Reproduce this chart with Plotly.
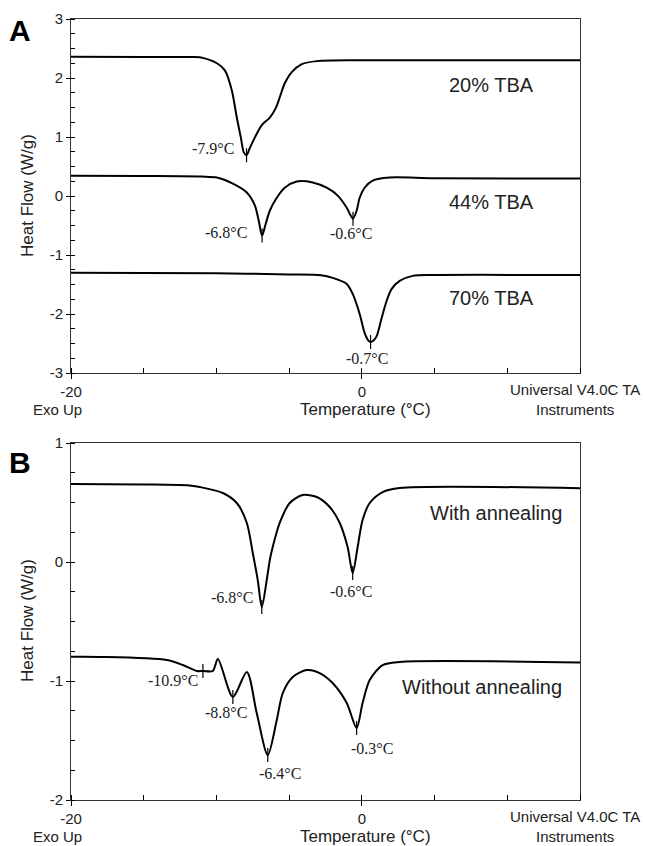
import plotly.graph_objects as go

W, H = 645, 846

# ---------------- Panel A data (Temperature °C, Heat Flow W/g) ----------------
a20_t = [-20, -15, -12, -11.14, -9.97, -9.42, -8.94, -8.60, -8.32, -8.12, -7.93, -7.71, -7.36, -6.88,
         -6.33, -5.92, -5.65, -5.30, -4.82, -4.13, -3.10, 0, 15]
a20_v = [2.36, 2.356, 2.354, 2.35, 2.25, 2.13, 1.79, 1.33, 0.99, 0.74, 0.69, 0.81, 0.99, 1.20,
         1.33, 1.49, 1.67, 1.91, 2.10, 2.235, 2.286, 2.30, 2.30]

a44_t = [-20, -15, -11, -9.97, -8.87, -7.91, -7.36, -7.09, -6.86, -6.61, -6.33, -5.85, -5.30, -4.48,
         -3.38, -2.42, -1.66, -1.04, -0.77, -0.61, -0.36, -0.15, 0.19, 0.74, 1.91, 5, 15]
a44_v = [0.345, 0.34, 0.33, 0.313, 0.21, 0.06, -0.16, -0.42, -0.67, -0.47, -0.25, -0.03, 0.14, 0.245,
         0.23, 0.14, 0.007, -0.20, -0.33, -0.385, -0.25, -0.03, 0.14, 0.26, 0.313, 0.30, 0.295]

a70_t = [-20, -10, -5, -2.8, -2.01, -1.04, -0.63, -0.15, 0.19, 0.45, 0.60, 0.80, 1.02, 1.36, 1.70,
         2.05, 2.60, 3.49, 5, 15]
a70_v = [-1.30, -1.31, -1.33, -1.345, -1.388, -1.49, -1.66, -2.0, -2.32, -2.45, -2.476, -2.45, -2.374,
         -2.068, -1.779, -1.575, -1.44, -1.354, -1.34, -1.34]

# ---------------- Panel B data ----------------
bw_t = [-20, -15, -12, -11.14, -9.56, -8.60, -7.91, -7.50, -7.16, -6.88, -6.54, -6.33, -6.13, -5.65,
        -4.96, -4.07, -3.10, -2.21, -1.52, -0.98, -0.63, -0.29, 0.05, 0.54, 1.43, 2.60, 15]
bw_v = [0.655, 0.652, 0.645, 0.630, 0.580, 0.496, 0.328, 0.076, -0.151, -0.378, -0.151, 0.017, 0.126,
        0.328, 0.496, 0.563, 0.546, 0.462, 0.328, 0.126, -0.092, 0.126, 0.353, 0.496, 0.588, 0.622, 0.62]

bo_t = [-20, -18, -13.41, -12.31, -11.35, -10.93, -10.25, -9.90, -8.87, -7.91, -7.23, -6.47, -5.85,
        -5.44, -4.75, -3.79, -2.90, -2.01, -1.04, -0.36, 0.05, 0.54, 1.43, 2.60, 15]
bo_v = [-0.797, -0.798, -0.824, -0.866, -0.916, -0.916, -0.916, -0.815, -1.134, -0.924, -1.269, -1.622,
        -1.328, -1.101, -0.966, -0.908, -0.933, -1.017, -1.185, -1.395, -1.185, -0.992, -0.866, -0.840, -0.845]

# Peak markers and their labels
a_peak_t = [-7.93, -6.86, -0.61, 0.60]
a_peak_v = [0.69, -0.67, -0.385, -2.476]
a_peak_lbl = ["-7.9°C", "-6.8°C", "-0.6°C", "-0.7°C"]

b_peak_t = [-6.88, -0.63, -8.87, -6.47, -0.36]
b_peak_v = [-0.378, -0.092, -1.134, -1.622, -1.395]
b_peak_lbl = ["-6.8°C", "-0.6°C", "-8.8°C", "-6.4°C", "-0.3°C"]
b_onset_t = [-10.93]
b_onset_v = [-0.916]
b_onset_lbl = ["-10.9°C"]

series_a_lbl = ["20% TBA", "44% TBA", "70% TBA"]
series_b_lbl = ["With annealing", "Without annealing"]

x_tickvals = [-20, 0]
x_ticktext = ["-20", "0"]
ya_tickvals = [-3, -2, -1, 0, 1, 2, 3]
ya_ticktext = ["-3", "-2", "-1", "0", "1", "2", "3"]
yb_tickvals = [-2, -1, 0, 1]
yb_ticktext = ["-2", "-1", "0", "1"]

fig = go.Figure()

def curve(t, v, ax):
    fig.add_trace(go.Scatter(x=t, y=v, mode="lines", xaxis="x" if ax == 1 else "x2",
                             yaxis="y" if ax == 1 else "y2",
                             line=dict(color="black", width=2, shape="spline", smoothing=0.8),
                             hoverinfo="skip", showlegend=False))

curve(a20_t, a20_v, 1)
curve(a44_t, a44_v, 1)
curve(a70_t, a70_v, 1)
curve(bw_t, bw_v, 2)
curve(bo_t, bo_v, 2)

def marks(t, v, ax, sym):
    fig.add_trace(go.Scatter(x=t, y=v, mode="markers", xaxis="x" if ax == 1 else "x2",
                             yaxis="y" if ax == 1 else "y2",
                             marker=dict(symbol=sym, size=10, color="black",
                                         line=dict(color="black", width=1.2)),
                             hoverinfo="skip", showlegend=False))

marks(a_peak_t, a_peak_v, 1, "line-ns-open")
marks(b_peak_t, b_peak_v, 2, "line-ns-open")
marks(b_onset_t, b_onset_v, 2, "cross-thin-open")

def px_x(p):
    return p / W

def px_y(p):
    return 1 - p / H

xdom = [px_x(71), px_x(580)]
ya_dom = [px_y(373), px_y(19)]
yb_dom = [px_y(800), px_y(443)]

sans = "Liberation Sans, Arial, sans-serif"
serif = "Liberation Serif, Times New Roman, serif"

def xaxis(anchor):
    return dict(domain=xdom, range=[-20, 15], anchor=anchor, automargin=False,
                tickmode="array", tickvals=x_tickvals, ticktext=x_ticktext,
                ticks="outside", ticklen=5, tickcolor="black", tickwidth=1,
                minor=dict(dtick=5, tick0=0, ticks="inside", ticklen=5, tickcolor="black", tickwidth=1),
                showline=True, linecolor="#333", linewidth=1, mirror=True,
                showgrid=False, zeroline=False,
                tickfont=dict(family=sans, size=15, color="#222"))

def yaxis(rng, dom, anchor, tv, tt):
    return dict(domain=dom, range=rng, anchor=anchor, automargin=False,
                tickmode="array", tickvals=tv, ticktext=tt,
                ticks="outside", ticklen=4, tickcolor="black", tickwidth=1,
                minor=dict(dtick=0.25, tick0=0, ticks="inside", ticklen=4, tickcolor="black", tickwidth=1),
                showline=True, linecolor="#333", linewidth=1, mirror=True,
                showgrid=False, zeroline=False,
                tickfont=dict(family=sans, size=15, color="#222"))

fig.update_layout(
    width=W, height=H, margin=dict(l=0, r=0, t=0, b=0, autoexpand=False),
    paper_bgcolor="white", plot_bgcolor="white", showlegend=False,
    xaxis=xaxis("y"), yaxis=yaxis([-3, 3], ya_dom, "x", ya_tickvals, ya_ticktext),
    xaxis2=xaxis("y2"), yaxis2=yaxis([-2, 1], yb_dom, "x2", yb_tickvals, yb_ticktext),
)

ann = []
a_off = [("right", -11, 7), ("right", -13, 3), ("center", -2, -15), ("center", -4, -16)]
for t, v, s, (xa, xs, ys) in zip(a_peak_t, a_peak_v, a_peak_lbl, a_off):
    ann.append(dict(x=t, y=v, xref="x", yref="y", text=s, showarrow=False, xanchor=xa, yanchor="middle",
                    xshift=xs, yshift=ys, font=dict(family=serif, size=16, color="#222")))
b_off = [("right", -7, 9), ("center", -2, -19), ("center", -7, -16), ("center", 12, -18), ("center", 15, -20)]
for t, v, s, (xa, xs, ys) in zip(b_peak_t, b_peak_v, b_peak_lbl, b_off):
    ann.append(dict(x=t, y=v, xref="x2", yref="y2", text=s, showarrow=False, xanchor=xa, yanchor="middle",
                    xshift=xs, yshift=ys, font=dict(family=serif, size=16, color="#222")))
for t, v, s in zip(b_onset_t, b_onset_v, b_onset_lbl):
    ann.append(dict(x=t, y=v, xref="x2", yref="y2", text=s, showarrow=False, xanchor="right", yanchor="middle",
                    xshift=-3, yshift=-9, font=dict(family=serif, size=16, color="#222")))

for s, yp in zip(series_a_lbl, [85, 202, 298]):
    ann.append(dict(x=px_x(491), y=px_y(yp), xref="paper", yref="paper", text=s, showarrow=False,
                    xanchor="center", yanchor="middle", font=dict(family=sans, size=20, color="#222")))
for s, xp, yp in zip(series_b_lbl, [496, 482], [513, 687]):
    ann.append(dict(x=px_x(xp), y=px_y(yp), xref="paper", yref="paper", text=s, showarrow=False,
                    xanchor="center", yanchor="middle", font=dict(family=sans, size=20, color="#222")))

for s, yp in zip(["A", "B"], [30, 463]):
    ann.append(dict(x=px_x(20), y=px_y(yp), xref="paper", yref="paper", text="<b>" + s + "</b>",
                    showarrow=False, xanchor="center", yanchor="middle",
                    font=dict(family=sans, size=30, color="black")))

for y_tick, y_title, y_center in [(389, 410, 196), (816, 836, 621)]:
    ann.append(dict(x=px_x(57), y=px_y(y_title), xref="paper", yref="paper", text="Exo Up", showarrow=False,
                    xanchor="center", yanchor="middle", font=dict(family=sans, size=15, color="#222")))
    ann.append(dict(x=px_x(365), y=px_y(y_title), xref="paper", yref="paper", text="Temperature (°C)",
                    showarrow=False, xanchor="center", yanchor="middle",
                    font=dict(family=sans, size=17, color="#222")))
    ann.append(dict(x=px_x(575), y=px_y(y_tick), xref="paper", yref="paper", text="Universal V4.0C TA",
                    showarrow=False, xanchor="center", yanchor="middle",
                    font=dict(family=sans, size=15, color="#222")))
    ann.append(dict(x=px_x(575), y=px_y(y_title), xref="paper", yref="paper", text="Instruments",
                    showarrow=False, xanchor="center", yanchor="middle",
                    font=dict(family=sans, size=15, color="#222")))
    ann.append(dict(x=px_x(27), y=px_y(y_center), xref="paper", yref="paper", text="Heat Flow (W/g)",
                    showarrow=False, xanchor="center", yanchor="middle", textangle=-90,
                    font=dict(family=sans, size=17, color="#222")))

fig.update_layout(annotations=ann)
fig.write_html("out.html", config={"displayModeBar": False, "staticPlot": True},
               post_script="document.body.style.margin='0';document.body.style.overflow='hidden';")
